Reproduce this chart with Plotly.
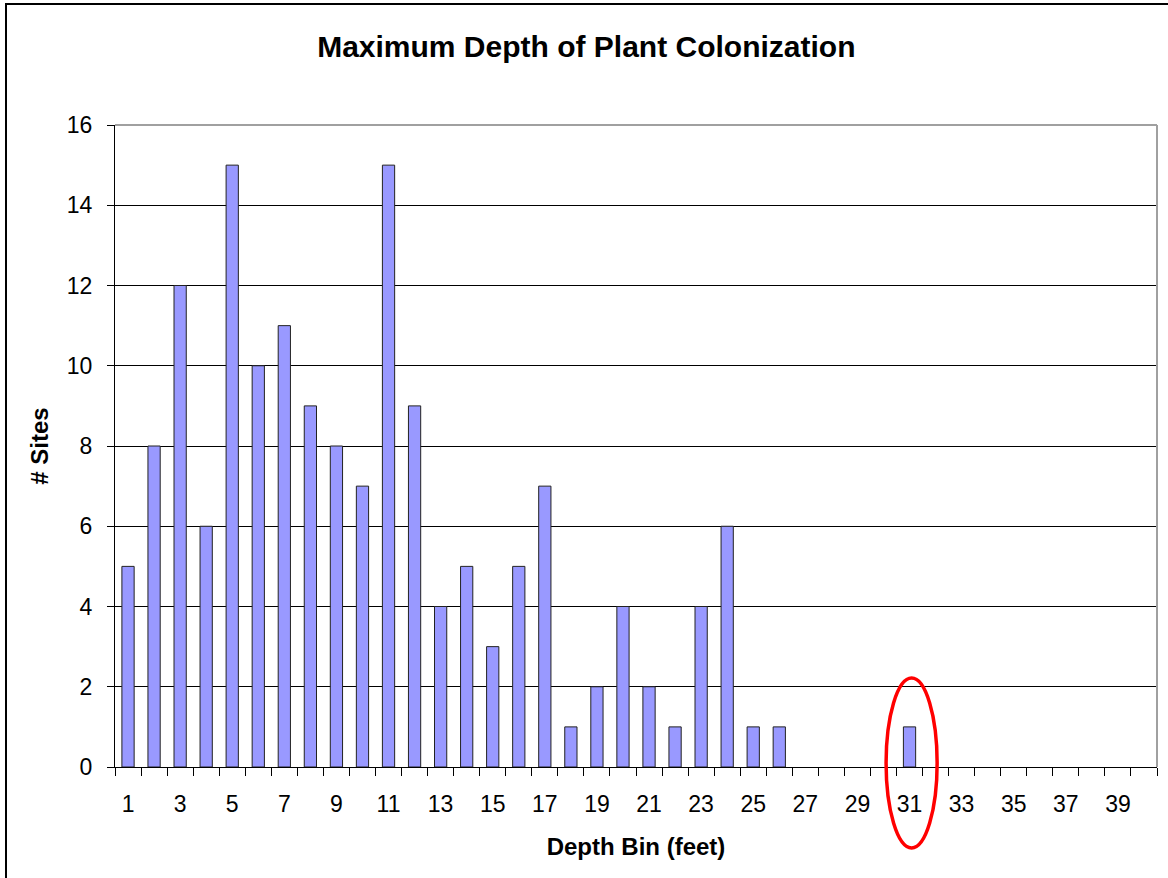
import plotly.graph_objects as go

# ---- data ----
depth_bins = list(range(1, 41))
site_counts = [5, 8, 12, 6, 15, 10, 11, 9, 8, 7,
               15, 9, 4, 5, 3, 5, 7, 1, 2, 4,
               2, 1, 4, 6, 1, 1, 0, 0, 0, 0,
               1, 0, 0, 0, 0, 0, 0, 0, 0, 0]
x_tick_values = list(range(1, 41, 2))
x_tick_labels = [str(v) for v in x_tick_values]
highlight_bin = 31

title_text = "Maximum Depth of Plant Colonization"
x_title = "Depth Bin (feet)"
y_title = "# Sites"

FONT = "Liberation Sans, Arial, Helvetica, sans-serif"
n_bins = len(depth_bins)

# zero-count bins draw no bar at all (as in the reference)
plot_counts = [v if v > 0 else None for v in site_counts]

fig = go.Figure()
fig.add_trace(go.Bar(
    x=depth_bins,
    y=plot_counts,
    marker=dict(color="#9999FF", line=dict(color="#222222", width=1)),
    width=0.47,
    hoverinfo="x+y",
))

fig.update_layout(
    width=1168,
    height=878,
    margin=dict(l=115, r=11, t=125, b=111, autoexpand=False),
    paper_bgcolor="white",
    plot_bgcolor="white",
    showlegend=False,
    font=dict(family=FONT, color="black"),
    title=dict(
        text="<b>" + title_text + "</b>",
        x=0.502, xref="container",
        xanchor="center",
        y=1 - 46 / 878, yanchor="middle",
        font=dict(size=30, family=FONT, color="black"),
    ),
)

fig.update_xaxes(
    range=[0.5, n_bins + 0.5],
    tickmode="array",
    tickvals=x_tick_values,
    ticktext=x_tick_labels,
    ticks="",
    ticklabelstandoff=16,
    tickfont=dict(size=23, family=FONT, color="black"),
    showgrid=False,
    zeroline=False,
    showline=True, linecolor="black", linewidth=1,
    minor=dict(tick0=0.5, dtick=1, ticks="outside", ticklen=8,
               tickcolor="black", tickwidth=1, showgrid=False),
    title=dict(text="<b>" + x_title + "</b>",
               font=dict(size=24, family=FONT, color="black"),
               standoff=22),
)

fig.update_yaxes(
    range=[0, 16],
    dtick=2,
    ticks="outside", ticklen=7, tickcolor="black",
    ticklabelstandoff=10,
    tickfont=dict(size=23, family=FONT, color="black"),
    showgrid=True, gridcolor="#000000", gridwidth=1,
    zeroline=False,
    showline=True, linecolor="black", linewidth=1,
    title=dict(text="<b>" + y_title + "</b>",
               font=dict(size=24, family=FONT, color="black"),
               standoff=11),
)

# plot-area border (top and right, gray)
fig.add_shape(type="line", xref="paper", yref="paper", x0=0, x1=1, y0=1, y1=1,
              line=dict(color="#A0A0A0", width=2), layer="above")
fig.add_shape(type="line", xref="paper", yref="paper", x0=1, x1=1, y0=0, y1=1,
              line=dict(color="#A0A0A0", width=2), layer="above")

# outer chart frame
fig.add_shape(type="rect", xref="paper", yref="paper",
              x0=(6 - 115) / 1042, x1=1.2, y0=-0.5, y1=(767 - 4) / 642,
              line=dict(color="black", width=2), fillcolor="rgba(0,0,0,0)",
              layer="above")

# red highlight ellipse around the highlighted bin
cx = (highlight_bin - 0.5) / n_bins + 0.002
fig.add_shape(type="circle", xref="paper", yref="paper",
              x0=cx - 0.0245, x1=cx + 0.0245,
              y0=-0.126, y1=0.1386,
              line=dict(color="#FF0000", width=3.5), layer="above")

fig.write_html("out.html",
               config={"displayModeBar": False},
               post_script="document.body.style.margin='0px';")
